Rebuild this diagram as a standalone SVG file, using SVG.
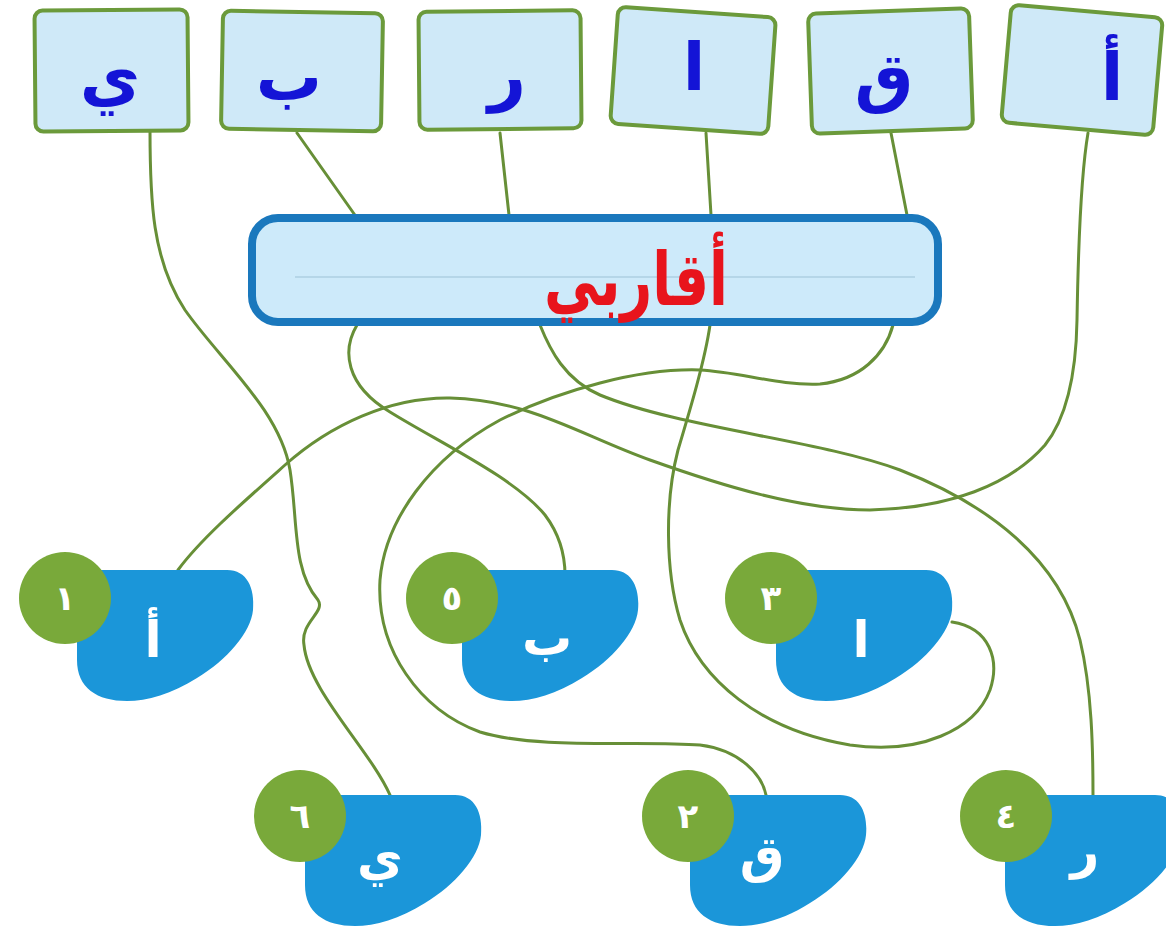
<svg xmlns="http://www.w3.org/2000/svg" width="1166" height="933" viewBox="0 0 1166 933">
<style>
.conn{fill:none;stroke:#678f37;stroke-width:3;stroke-linecap:round;stroke-linejoin:round}
.box{fill:#cfe9f8;stroke:#6b9a3b;stroke-width:4}
.boxt{font-family:"DejaVu Sans",sans-serif;font-weight:bold;font-size:66px;fill:#1414d6;text-anchor:middle}
.blob{fill:#1b96d9}
.num{fill:#79a93a}
.numt{font-family:"DejaVu Sans",sans-serif;font-weight:bold;font-size:34px;fill:#ffffff;text-anchor:middle}
.blobt{font-family:"DejaVu Sans",sans-serif;font-weight:bold;font-size:50px;fill:#ffffff;text-anchor:middle}
.title{font-family:"DejaVu Sans",sans-serif;font-weight:bold;font-size:74px;fill:#e8141c;text-anchor:middle}
</style>
<defs>
<path id="blobshape" d="M25,0 H150 C170,0 178,18 176,40 C174,62 150,90 120,108 C95,124 70,131 50,131 C20,131 0,118 0,90 V25 C0,10 10,0 25,0 Z"/>
</defs>
<rect width="1166" height="933" fill="#ffffff"/>
<g id="connectors">
<path class="conn" d="M150,130 C150,200 152,260 185,310 C220,360 280,410 290,470 C298,520 292,570 318,600 C326,612 300,622 304,645 C308,690 370,750 390,795"/>
<path class="conn" d="M297,133 L357,218 L357,325 C342,350 345,385 390,412 C440,443 515,478 545,515 C560,535 565,555 565,575"/>
<path class="conn" d="M500,133 L509,215 L540,325 C550,350 565,380 600,395 C680,428 820,440 900,470 C990,505 1060,560 1080,640 C1092,690 1093,750 1093,795"/>
<path class="conn" d="M706,133 L711,215 L710,325 C705,360 690,410 678,450 C665,500 665,570 680,620 C700,680 760,730 850,745 C920,755 975,730 990,690 C1000,660 990,628 952,622"/>
<path class="conn" d="M891,133 L907,215 L893,325 C885,355 860,380 820,384 C780,386 740,372 700,370 C640,368 560,390 500,420 C430,458 385,520 380,580 C376,650 420,710 480,732 C540,750 640,740 700,745 C740,750 762,775 766,795"/>
<path class="conn" d="M1088,133 C1080,180 1078,260 1077,320 C1076,380 1065,420 1045,445 C1010,485 950,508 870,510 C800,510 720,485 650,460 C580,435 530,400 450,398 C390,397 330,425 285,465 C240,505 200,540 178,570"/>
</g>
<g id="banner">
<rect x="252" y="218" width="686" height="104" rx="26" fill="#cdeafa" stroke="#1a78bd" stroke-width="8"/>
<line x1="295" y1="277" x2="915" y2="277" stroke="#b5d6e8" stroke-width="2"/>
<text class="title" x="636" y="305" textLength="184" lengthAdjust="spacingAndGlyphs">أقاربي</text>
</g>
<g id="top-ya">
<rect class="box" x="35" y="10" width="153" height="121" rx="8" transform="rotate(-0.5 111 70)"/>
<text class="boxt" x="110" y="100">ي</text>
</g>
<g id="top-ba">
<rect class="box" x="222" y="12" width="160" height="118" rx="8" transform="rotate(1 302 71)"/>
<text class="boxt" x="289" y="100">ب</text>
</g>
<g id="top-ra">
<rect class="box" x="419" y="11" width="162" height="118" rx="8" transform="rotate(-0.5 500 70)"/>
<text class="boxt" x="507" y="98">ر</text>
</g>
<g id="top-alif">
<rect class="box" x="614" y="12" width="158" height="117" rx="8" transform="rotate(4 693 71)"/>
<text class="boxt" x="694" y="90">ا</text>
</g>
<g id="top-qaf">
<rect class="box" x="810" y="11" width="161" height="120" rx="8" transform="rotate(-2 891 71)"/>
<text class="boxt" x="884" y="100">ق</text>
</g>
<g id="top-hamza">
<rect class="box" x="1006" y="11" width="152" height="118" rx="8" transform="rotate(5 1082 70)"/>
<text class="boxt" x="1112" y="100">أ</text>
</g>
<g id="node-1">
<use href="#blobshape" class="blob" x="77" y="570"/>
<circle class="num" cx="65" cy="598" r="46"/>
<text class="numt" x="65" y="610">١</text>
<text class="blobt" x="153" y="657">أ</text>
</g>
<g id="node-5">
<use href="#blobshape" class="blob" x="462" y="570"/>
<circle class="num" cx="452" cy="598" r="46"/>
<text class="numt" x="452" y="610">٥</text>
<text class="blobt" x="547" y="655">ب</text>
</g>
<g id="node-3">
<use href="#blobshape" class="blob" x="776" y="570"/>
<circle class="num" cx="771" cy="598" r="46"/>
<text class="numt" x="771" y="610">٣</text>
<text class="blobt" x="861" y="657">ا</text>
</g>
<g id="node-6">
<use href="#blobshape" class="blob" x="305" y="795"/>
<circle class="num" cx="300" cy="816" r="46"/>
<text class="numt" x="300" y="828">٦</text>
<text class="blobt" x="380" y="875">ي</text>
</g>
<g id="node-2">
<use href="#blobshape" class="blob" x="690" y="795"/>
<circle class="num" cx="688" cy="816" r="46"/>
<text class="numt" x="688" y="828">٢</text>
<text class="blobt" x="762" y="872">ق</text>
</g>
<g id="node-4">
<use href="#blobshape" class="blob" x="1005" y="795"/>
<circle class="num" cx="1006" cy="816" r="46"/>
<text class="numt" x="1006" y="828">٤</text>
<text class="blobt" x="1085" y="868">ر</text>
</g>
</svg>
